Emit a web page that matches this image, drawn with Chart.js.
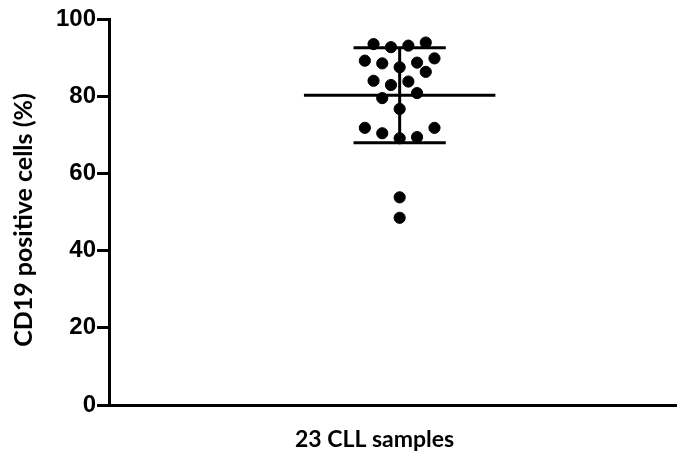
<!DOCTYPE html>
<html>
<head>
<meta charset="utf-8">
<script src="https://cdn.jsdelivr.net/npm/chart.js@4/dist/chart.umd.min.js"></script>
<style>
  html, body { margin: 0; padding: 0; background: #fff; }
  #wrap { width: 683px; height: 459px; position: relative; }
</style>
</head>
<body>
<div id="wrap"><canvas id="c"></canvas></div>
<script>
// CD19 positive cells (%) for each of the 23 CLL samples
const cd19Values = [
  93.5, 92.7, 93.1, 93.9,
  89.2, 88.5, 87.5, 88.7, 89.8,
  86.3,
  84.0, 82.9, 83.8,
  79.5, 80.8, 76.7,
  71.8, 70.4, 69.1, 69.4, 71.8,
  53.8, 48.5
];
// column slot of each dot within the scatter-dot cluster
const dotSlot = [
  -3, -1, 1, 3,
  -4, -2, 0, 2, 4,
  3,
  -3, -1, 1,
  -2, 2, 0,
  -4, -2, 0, 2, 4,
  0, 0
];
const yTicks = [0, 20, 40, 60, 80, 100];
const groupLabel = '23 CLL samples';
const yTitle = 'CD19 positive cells (%)';

// mean and SD of the group
const n = cd19Values.length;
const mean = cd19Values.reduce((a, b) => a + b, 0) / n;
const sd = Math.sqrt(cd19Values.reduce((a, v) => a + (v - mean) ** 2, 0) / (n - 1));

const MEAN_HALF = 11;   // half width of mean line, in slots
const CAP_HALF = 5.3;   // half width of SD caps, in slots

const points = cd19Values.map((v, i) => ({ x: dotSlot[i], y: v }));
const segment = (pts) => ({
  type: 'line', data: pts, borderColor: '#000', borderWidth: 3,
  pointRadius: 0, showLine: true, fill: false, order: 0, borderCapStyle: 'butt'
});

const axisTitles = {
  id: 'axisTitles',
  afterDraw(chart) {
    const ctx = chart.ctx, a = chart.chartArea;
    ctx.save();
    ctx.fillStyle = '#000';
    ctx.textAlign = 'center';
    ctx.textBaseline = 'middle';
    ctx.font = 'bold 23px Lato';
    ctx.fillText(groupLabel, a.left + (a.right - a.left) * 0.468, 440);
    ctx.font = 'bold 25px Lato';
    ctx.translate(24, (a.top + a.bottom) / 2 + 8);
    ctx.rotate(-Math.PI / 2);
    ctx.fillText(yTitle, 0, 0);
    ctx.restore();
  }
};

new Chart(document.getElementById('c'), {
  type: 'scatter',
  data: {
    datasets: [
      {
        data: points, backgroundColor: '#000', borderColor: '#000',
        pointRadius: 5.6, pointHoverRadius: 5.6, order: 1
      },
      segment([{ x: -MEAN_HALF, y: mean }, { x: MEAN_HALF, y: mean }]),
      segment([{ x: 0, y: mean - sd }, { x: 0, y: mean + sd }]),
      segment([{ x: -CAP_HALF, y: mean + sd }, { x: CAP_HALF, y: mean + sd }]),
      segment([{ x: -CAP_HALF, y: mean - sd }, { x: CAP_HALF, y: mean - sd }])
    ]
  },
  options: {
    responsive: true,
    maintainAspectRatio: false,
    animation: false,
    events: [],
    layout: { padding: { top: 19, right: 0, left: 0, bottom: 0 } },
    plugins: { legend: { display: false }, tooltip: { enabled: false } },
    scales: {
      x: {
        type: 'linear', min: -33.4, max: 31.8,
        ticks: { display: false },
        grid: { display: false, drawTicks: false },
        border: { display: true, color: '#000', width: 3 },
        afterFit(s) { s.height = 54; }
      },
      y: {
        min: 0, max: 100,
        afterBuildTicks(s) { s.ticks = yTicks.map(v => ({ value: v })); },
        ticks: {
          color: '#000', padding: 1,
          font: { family: 'Liberation Sans', size: 24, weight: 'bold' }
        },
        grid: { drawOnChartArea: false, drawTicks: true, tickLength: 12, tickWidth: 3, color: '#000' },
        border: { display: true, color: '#000', width: 3 },
        afterFit(s) { s.width = 109; }
      }
    }
  },
  plugins: [axisTitles]
});
</script>
</body>
</html>
